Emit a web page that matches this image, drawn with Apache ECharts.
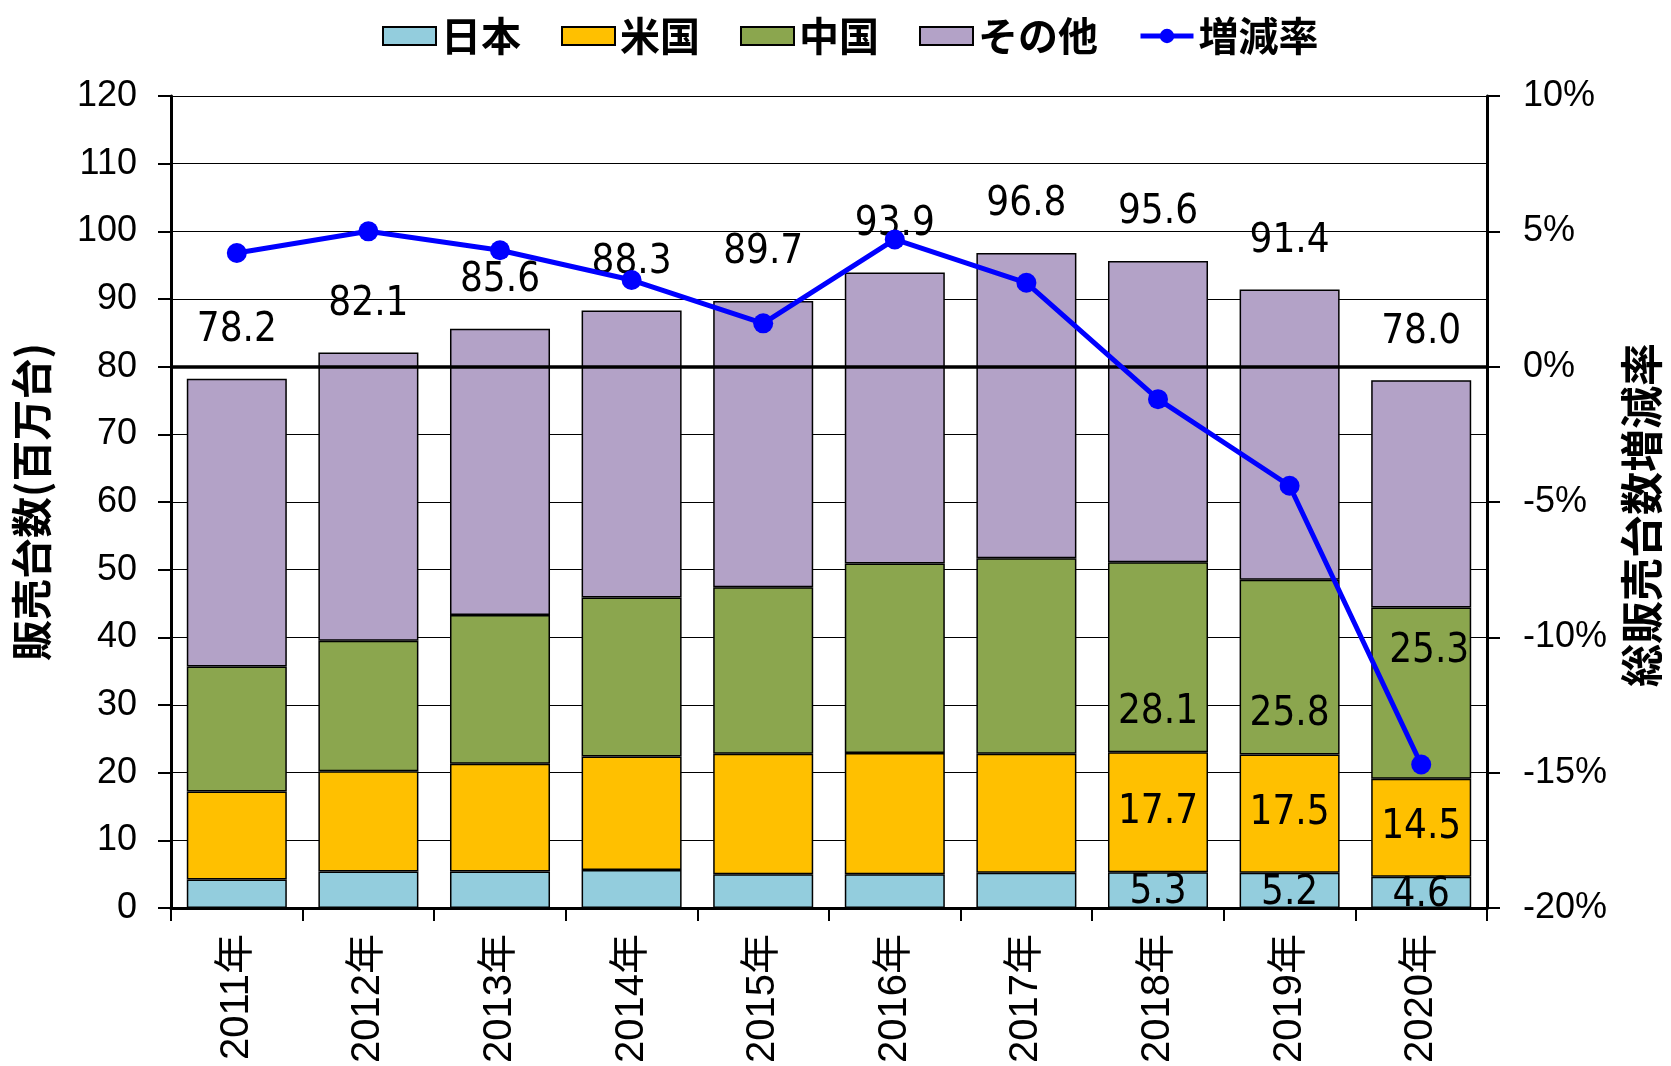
<!DOCTYPE html>
<html>
<head>
<meta charset="utf-8">
<title>販売台数</title>
<script src="https://cdn.jsdelivr.net/npm/echarts@6/dist/echarts.min.js"></script>
<style>
html, body { margin: 0; padding: 0; background: #fff; }
#main { width: 1671px; height: 1066px; }
</style>
</head>
<body>
<div id="main"></div>
<script>
// 販売台数 (百万台)
const years = ['2011年', '2012年', '2013年', '2014年', '2015年', '2016年', '2017年', '2018年', '2019年', '2020年']
const japan = [4.2, 5.4, 5.4, 5.6, 5.0, 5.0, 5.2, 5.3, 5.2, 4.6]
const usa = [13.0, 14.8, 15.9, 16.8, 17.8, 17.9, 17.6, 17.7, 17.5, 14.5]
const china = [18.5, 19.3, 22.0, 23.5, 24.6, 28.0, 28.9, 28.1, 25.8, 25.3]
const others = [42.5, 42.6, 42.3, 42.4, 42.3, 43.0, 45.1, 44.5, 42.9, 33.6]
const totals = [78.2, 82.1, 85.6, 88.3, 89.7, 93.9, 96.8, 95.6, 91.4, 78.0]
// 総販売台数増減率 (%)
const growth = [4.2, 5.0, 4.3, 3.2, 1.6, 4.7, 3.1, -1.2, -4.4, -14.7]
const labelledYears = ['2018年', '2019年', '2020年']

const numFont = "'DejaVu Sans Condensed', 'Liberation Sans', sans-serif"
const cjkFont = "'Noto Sans CJK JP', sans-serif"
const tickFont = "'Liberation Sans', 'Noto Sans CJK JP', sans-serif"

// 帯の中の数値ラベル位置の微調整
const chinaOffsets = { '2018年': [0, 55], '2019年': [0, 48], '2020年': [8, -42] }
const japanOffsets = { '2018年': [0, 3], '2019年': [0, 3], '2020年': [0, 3] }

function withLabels(values, offsets) {
  return values.map((v, i) => {
    const y = years[i]
    if (labelledYears.indexOf(y) < 0) return v
    return {
      value: v,
      label: { show: true, offset: (offsets && offsets[y]) || [0, 0] }
    }
  })
}

const inLabel = {
  show: false,
  position: 'inside',
  color: '#000',
  fontFamily: numFont,
  fontSize: 40,
  formatter: p => Number(p.value).toFixed(1)
}

const barBorder = { borderColor: '#000', borderWidth: 1.5 }

const chart = echarts.init(document.getElementById('main'))
chart.setOption({
  animation: false,
  backgroundColor: '#fff',
  legend: {
    left: 377,
    top: 11,
    itemWidth: 53,
    itemHeight: 18,
    itemGap: 40,
    textStyle: { fontFamily: cjkFont, fontWeight: 'bold', fontSize: 40, color: '#000' },
    data: [
      { name: '日本', icon: 'rect' },
      { name: '米国', icon: 'rect' },
      { name: '中国', icon: 'rect' },
      { name: 'その他', icon: 'rect' },
      { name: '増減率', lineStyle: { width: 5 } }
    ]
  },
  grid: { left: 171, right: 176, top: 96, bottom: 158 },
  xAxis: {
    type: 'category',
    data: years,
    axisLine: { lineStyle: { color: '#000', width: 3 } },
    axisTick: { show: true, length: 13, lineStyle: { color: '#000', width: 2 } },
    axisLabel: {
      rotate: 90,
      margin: 26,
      color: '#000',
      fontFamily: tickFont,
      fontSize: 40,
      interval: 0
    },
    splitLine: { show: false }
  },
  yAxis: [{
    type: 'value',
    min: 0,
    max: 120,
    interval: 10,
    name: '販売台数(百万台)',
    nameLocation: 'middle',
    nameRotate: 90,
    nameGap: 119,
    nameTextStyle: { fontFamily: cjkFont, fontWeight: 'bold', fontSize: 41, color: '#000' },
    axisLine: { show: true, lineStyle: { color: '#000', width: 3 } },
    axisTick: { show: true, length: 13, lineStyle: { color: '#000', width: 2 } },
    axisLabel: { margin: 34, color: '#000', fontFamily: tickFont, fontSize: 36 },
    splitLine: { show: true, lineStyle: { color: '#000', width: 1.2 } }
  }, {
    type: 'value',
    min: -20,
    max: 10,
    interval: 5,
    position: 'right',
    name: '総販売台数増減率',
    nameLocation: 'middle',
    nameRotate: 90,
    nameGap: 133,
    nameTextStyle: {
      fontFamily: cjkFont, fontWeight: 'bold', fontSize: 43, color: '#000',
      padding: [0, 26, 0, 0]
    },
    axisLine: { show: true, lineStyle: { color: '#000', width: 3 } },
    axisTick: { show: true, length: 13, lineStyle: { color: '#000', width: 2 } },
    axisLabel: { margin: 36, color: '#000', fontFamily: tickFont, fontSize: 36, formatter: '{value}%' },
    splitLine: { show: false }
  }],
  series: [{
    name: '日本',
    type: 'bar',
    stack: 'total',
    barWidth: '76%',
    itemStyle: Object.assign({ color: '#93CDDD' }, barBorder),
    label: inLabel,
    data: withLabels(japan, japanOffsets)
  }, {
    name: '米国',
    type: 'bar',
    stack: 'total',
    itemStyle: Object.assign({ color: '#FFC000' }, barBorder),
    label: inLabel,
    data: withLabels(usa)
  }, {
    name: '中国',
    type: 'bar',
    stack: 'total',
    itemStyle: Object.assign({ color: '#8BA64E' }, barBorder),
    label: inLabel,
    data: withLabels(china, chinaOffsets)
  }, {
    name: 'その他',
    type: 'bar',
    stack: 'total',
    itemStyle: Object.assign({ color: '#B3A2C7' }, barBorder),
    label: {
      show: true,
      position: 'top',
      distance: 28,
      color: '#000',
      fontFamily: numFont,
      fontSize: 40,
      formatter: p => totals[p.dataIndex].toFixed(1)
    },
    data: others
  }, {
    name: '増減率',
    type: 'line',
    yAxisIndex: 1,
    z: 5,
    symbol: 'circle',
    symbolSize: 20,
    itemStyle: { color: '#0000FF' },
    lineStyle: { color: '#0000FF', width: 5 },
    data: growth,
    markLine: {
      silent: true,
      symbol: 'none',
      label: { show: false },
      lineStyle: { color: '#000', width: 3.5, type: 'solid' },
      data: [{ yAxis: 0 }]
    }
  }]
})
</script>
</body>
</html>
